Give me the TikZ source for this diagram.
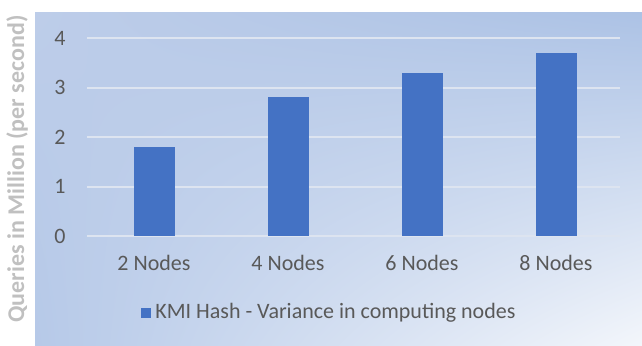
\documentclass[tikz,border=0pt]{standalone}
\usepackage{fontspec}
\setmainfont{Carlito}
\usepackage{xcolor}
\usepackage{tikz}
\usetikzlibrary{shadings}
\definecolor{barblue}{HTML}{4472C4}
\definecolor{textgray}{HTML}{595959}
\definecolor{titlegray}{HTML}{C0C0C0}
\definecolor{gridline}{HTML}{DDE4F0}
\definecolor{bgA}{HTML}{BDCDE9}
\definecolor{bgB}{HTML}{ACC2E5}
\definecolor{bgC}{HTML}{B6C9E8}
\definecolor{bgD}{HTML}{F3F6FB}
\newcommand{\drawBar}[3]{% name, center x, value
  \fill[barblue] (#2-20.5, 109) rectangle (#2+20.5, 109+49.5*#3);
  \node[axistext] (cat#1) at (#2, 80) {\strut#1 Nodes};
}

\begin{document}
\begin{tikzpicture}[x=0.5pt,y=0.5pt,
  axistext/.style={text=textgray,font=\fontsize{11}{13}\selectfont,inner sep=0pt}]
\useasboundingbox (0,0) rectangle (642,345);

% Panel background
\shade[upper left=bgA,upper right=bgB,lower left=bgC,lower right=bgD]
  (35,0) rectangle (642,333);

% Gridlines and values
\foreach \v in {0,...,4} {
  \draw[gridline,line width=1pt] (87, 109+49.5*\v) -- (620, 109+49.5*\v);
  \node[axistext] (tick\v) at (60, 109+49.5*\v) {\v};
}

% Bars
\drawBar{2}{154}{1.8}
\drawBar{4}{288}{2.8}
\drawBar{6}{422}{3.3}
\drawBar{8}{556}{3.7}

% Axis title
\node[text=titlegray,font=\fontsize{12}{14}\selectfont\bfseries,rotate=90,inner sep=0pt]
  (ytitle) at (17, 176) {Queries in Million (per second)};

% Legend
\fill[barblue] (141, 27) rectangle (151, 37);
\node[axistext,anchor=west] (legend) at (155, 32) {\strut KMI Hash - Variance in computing nodes};

\end{tikzpicture}
\end{document}
